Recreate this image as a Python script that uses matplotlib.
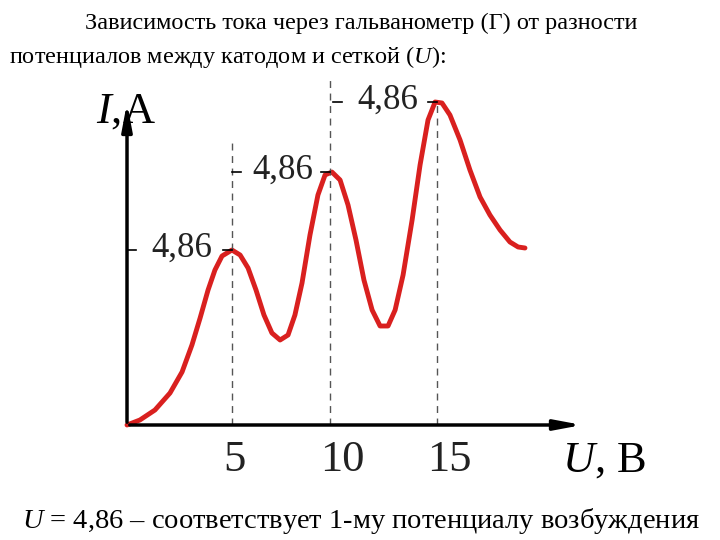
import matplotlib

matplotlib.use("Agg")

import matplotlib.pyplot as plt

# curve: U in volts, I in arbitrary units
u_values = [0, 0.60, 1.30, 2.00, 2.56, 3.02, 3.40, 3.77, 4.09, 4.42, 4.88, 5.26, 5.63,
            6.00, 6.37, 6.74, 7.12, 7.49, 7.81, 8.14, 8.51, 8.88, 9.21, 9.53, 9.91,
            10.28, 10.65, 11.02, 11.40, 11.77, 12.14, 12.47, 12.84, 13.26, 13.63,
            14.00, 14.33, 14.65, 15.02, 15.49, 15.95, 16.42, 16.88, 17.35, 17.81,
            18.19, 18.51]
i_values = [0, 0.5, 1.5, 3.2, 5.3, 8.0, 10.7, 13.5, 15.5, 16.9, 17.5, 17.0, 15.7,
            13.5, 11.0, 9.2, 8.5, 9.0, 11.0, 14.2, 19.0, 23.0, 25.0, 25.3, 24.5,
            22.0, 18.5, 14.5, 11.5, 9.9, 9.9, 11.5, 15.0, 20.5, 26.0, 30.5, 32.3,
            32.2, 31.0, 28.5, 25.5, 22.8, 21.0, 19.5, 18.3, 17.8, 17.7]
peak_u = [4.88, 9.44, 14.42]
peak_i = [17.5, 25.3, 32.3]
gap_label = "4,86"
tick_values = [5, 10, 15]
tick_labels = ["5", "10", "15"]

plt.rcParams["font.family"] = ["Liberation Serif", "DejaVu Serif"]
plt.rcParams["mathtext.fontset"] = "custom"
plt.rcParams["mathtext.rm"] = "Liberation Serif"
plt.rcParams["mathtext.it"] = "Liberation Serif:italic"

fig = plt.figure(figsize=(7.2, 5.4), dpi=100)
ax = fig.add_axes([0, 0, 1, 1])
ax.set_xlim(-5.907, 27.58)
ax.set_ylim(-11.5, 42.5)
ax.axis("off")

# axes with arrows
arrow = dict(arrowstyle="-|>,head_width=0.3,head_length=1.6", color="black", lw=2.5)
ax.annotate("", xy=(21.3, 0), xytext=(0, 0), arrowprops=arrow)
ax.annotate("", xy=(0, 32.5), xytext=(0, 0), arrowprops=arrow)

ax.plot(u_values, i_values, color="#d9201f", lw=3.5,
        solid_capstyle="round", solid_joinstyle="round")

# dashed lines from each peak to the next label level
tops = [28.5, 34.5, 32.3]
for x, top in zip(peak_u, tops):
    ax.plot([x, x], [0, top], color="#555555", lw=1, ls=(0, (5, 4)))

# labels of the gaps
label_left = [0.0, 4.88, 9.6]
for left, x, y in zip(label_left, peak_u, peak_i):
    ax.plot([left, left + 0.4], [y, y], color="black", lw=1.2)
    ax.text((left + x) / 2 + 0.1, y + 0.2, gap_label, fontsize=25,
            ha="center", va="center", color="#222222")
    ax.plot([x - 0.4, x], [y, y], color="black", lw=1.2)

for v, lab in zip(tick_values, tick_labels):
    ax.text(v, -3.5, lab, fontsize=32, ha="center", va="center", color="#222222")

ax.text(-1.45, 31.3, "$\\it{I}$,A", fontsize=32, ha="left", va="center")
ax.text(20.25, -3.6, "$\\it{U}$, B", fontsize=32, ha="left", va="center")

fig.text(0.118, 0.957, "Зависимость тока через гальванометр (Г) от разности",
         fontsize=17.5, ha="left", va="center")
fig.text(0.012, 0.895, "потенциалов между катодом и сеткой ($\\it{U}$):",
         fontsize=17.5, ha="left", va="center")
fig.text(0.03, 0.035, "$\\it{U}$ = 4,86 – соответствует 1-му потенциалу возбуждения",
         fontsize=20.5, ha="left", va="center")

fig.savefig("out.png", dpi=100)
